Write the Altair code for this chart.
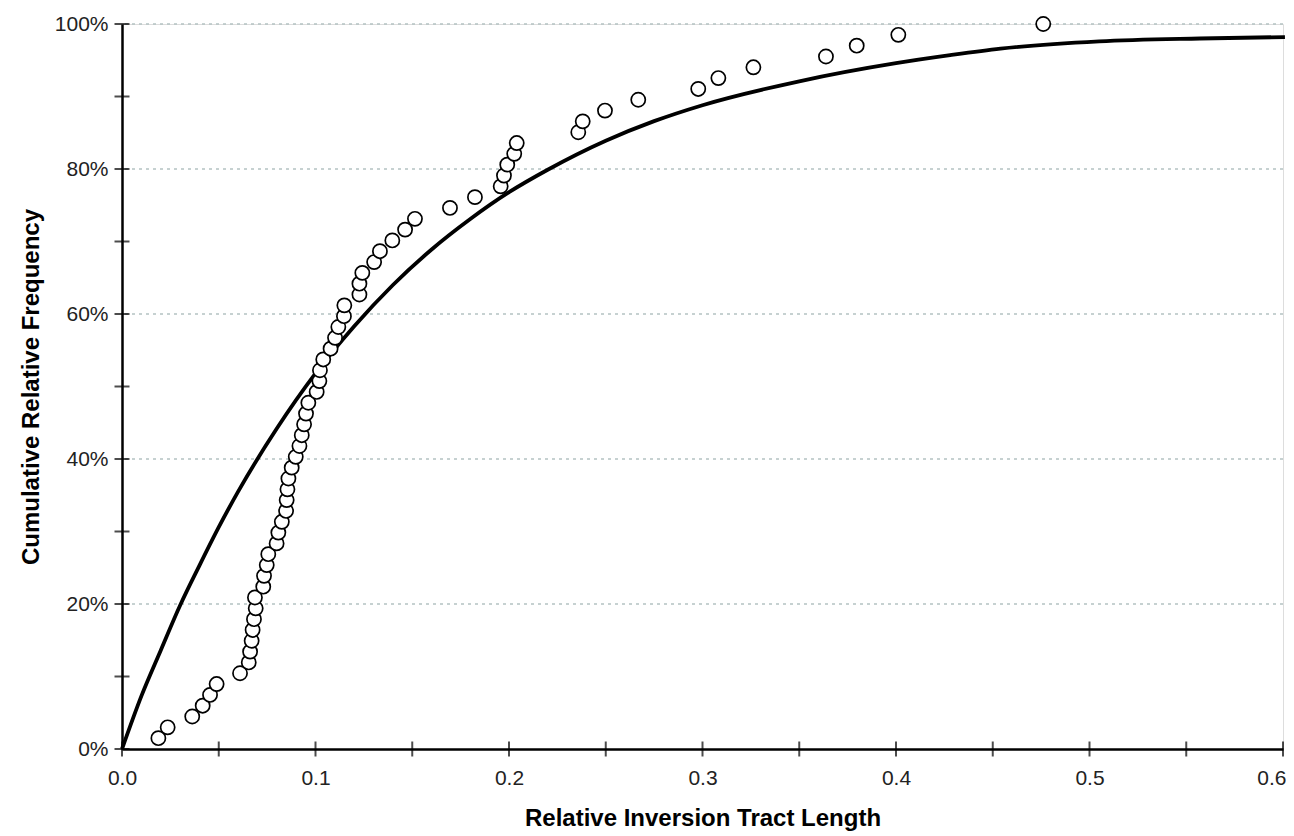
import altair as alt
import pandas as pd

# Observed points (relative inversion tract length, cumulative relative frequency in %)
obs_x = [0.0188, 0.0236, 0.0363, 0.0417, 0.0455, 0.0489, 0.0610, 0.0655, 0.0662, 0.0670,
         0.0675, 0.0682, 0.0691, 0.0687, 0.0730, 0.0734, 0.0748, 0.0756, 0.0799, 0.0808,
         0.0826, 0.0848, 0.0851, 0.0855, 0.0860, 0.0877, 0.0898, 0.0917, 0.0929, 0.0941,
         0.0951, 0.0963, 0.1006, 0.1020, 0.1023, 0.1040, 0.1078, 0.1101, 0.1118, 0.1147,
         0.1149, 0.1227, 0.1227, 0.1242, 0.1303, 0.1333, 0.1397, 0.1463, 0.1514, 0.1695,
         0.1824, 0.1957, 0.1974, 0.1991, 0.2027, 0.2040, 0.2358, 0.2381, 0.2496, 0.2668,
         0.2978, 0.3082, 0.3263, 0.3638, 0.3797, 0.4012, 0.4761]
obs_y = [1.49, 2.99, 4.48, 5.97, 7.46, 8.96, 10.45, 11.94, 13.43, 14.93,
         16.42, 17.91, 19.40, 20.90, 22.39, 23.88, 25.37, 26.87, 28.36, 29.85,
         31.34, 32.84, 34.33, 35.82, 37.31, 38.81, 40.30, 41.79, 43.28, 44.78,
         46.27, 47.76, 49.25, 50.75, 52.24, 53.73, 55.22, 56.72, 58.21, 59.70,
         61.19, 62.69, 64.18, 65.67, 67.16, 68.66, 70.15, 71.64, 73.13, 74.63,
         76.12, 77.61, 79.10, 80.60, 82.09, 83.58, 85.07, 86.57, 88.06, 89.55,
         91.04, 92.54, 94.03, 95.52, 97.01, 98.51, 100.00]

# Fitted curve
curve_x = [0, 0.01, 0.02, 0.03, 0.04, 0.05, 0.06, 0.08, 0.1, 0.12, 0.14, 0.16, 0.18,
           0.2, 0.22, 0.25, 0.275, 0.3, 0.35, 0.4, 0.428, 0.454, 0.505, 0.557, 0.601]
curve_y = [0, 7.3, 13.6, 19.8, 25.3, 30.6, 35.5, 44.2, 51.8, 58.3, 64.0, 68.9, 73.1,
           76.8, 79.9, 83.9, 86.6, 88.8, 92.1, 94.6, 95.7, 96.6, 97.6, 98.0, 98.2]

x_ticks = [0, 0.05, 0.1, 0.15, 0.2, 0.25, 0.3, 0.35, 0.4, 0.45, 0.5, 0.55, 0.6]
x_labels = [0, 0.1, 0.2, 0.3, 0.4, 0.5, 0.6]
y_ticks = [0, 10, 20, 30, 40, 50, 60, 70, 80, 90, 100]
y_grid = [20, 40, 60, 80, 100]

obs = pd.DataFrame({"x": obs_x, "y": obs_y})
curve = pd.DataFrame({"x": curve_x, "y": curve_y})
xt = pd.DataFrame({"x": x_ticks})
yt = pd.DataFrame({"y": y_ticks})

FONT = "Liberation Sans"
xscale = alt.Scale(domain=[0, 0.6], nice=False, zero=True)
yscale = alt.Scale(domain=[0, 100], nice=False)

xaxis = alt.Axis(values=x_labels, format=".1f", title="Relative Inversion Tract Length",
                 ticks=False, grid=False, domain=True, domainColor="black", domainWidth=2.5,
                 labelAlign={"condition": {"test": "datum.value >= 0.6", "value": "right"},
                             "value": "center"},
                 labelOffset={"condition": {"test": "datum.value >= 0.6", "value": 3},
                              "value": 0},
                 labelFont=FONT, labelFontSize=21, labelColor="#222", labelPadding=18,
                 titleFont=FONT, titleFontSize=24, titleFontWeight="bold", titleColor="black",
                 titlePadding=18)
yaxis = alt.Axis(values=y_ticks, title="Cumulative Relative Frequency",
                 labelExpr="datum.value % 20 == 0 ? datum.value + '%' : ''",
                 ticks=False, grid=False, domain=True, domainColor="black", domainWidth=2.5,
                 labelFont=FONT, labelFontSize=21, labelColor="#222", labelPadding=14,
                 titleFont=FONT, titleFontSize=24, titleFontWeight="bold", titleColor="black",
                 titlePadding=11)

grid = alt.Chart(pd.DataFrame({"y": y_grid})).mark_rule(
    color="#b4c2c2", strokeWidth=1.3, strokeDash=[3, 4]
).encode(y=alt.Y("y:Q", scale=yscale, axis=yaxis))

line = alt.Chart(curve).mark_line(color="black", strokeWidth=3.8, interpolate="monotone").encode(
    x=alt.X("x:Q", scale=xscale, axis=xaxis),
    y=alt.Y("y:Q", scale=yscale),
)

pts = alt.Chart(obs).mark_point(shape="circle", filled=True, fill="white", stroke="black",
                                 strokeWidth=1.7, size=200, opacity=1).encode(
    x=alt.X("x:Q", scale=xscale),
    y=alt.Y("y:Q", scale=yscale),
)

xtick_marks = alt.Chart(xt).mark_tick(color="black", thickness=2, size=15, orient="vertical").encode(
    x=alt.X("x:Q", scale=xscale),
    y=alt.datum(0, scale=yscale),
)
ytick_marks = alt.Chart(yt).mark_tick(color="black", thickness=2, size=15, orient="horizontal").encode(
    y=alt.Y("y:Q", scale=yscale),
    x=alt.datum(0, scale=xscale),
)

chart = alt.layer(grid, line, pts, xtick_marks, ytick_marks).properties(
    width=1161, height=725,
    autosize=alt.AutoSizeParams(type="none"),
    padding={"left": 114, "top": 16, "right": 3, "bottom": 86},
).configure_view(stroke=None).configure(background="white")

chart.save("out.html", embed_options={"renderer": "svg", "actions": False})
